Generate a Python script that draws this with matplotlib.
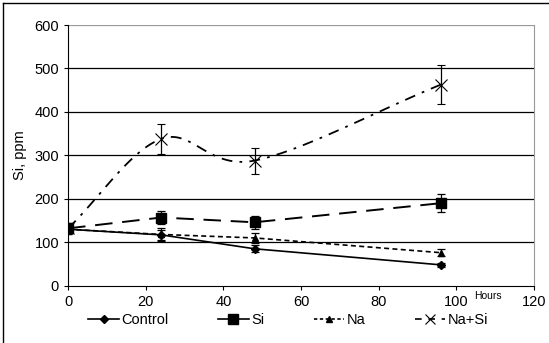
import numpy as np
import matplotlib.pyplot as plt
from matplotlib.lines import Line2D

plt.rcParams['font.family'] = ['Liberation Sans', 'DejaVu Sans']

hours = [0, 24, 48, 96]
control = [130, 117, 85, 48]
control_err = [8, 12, 8, 5]
si = [132, 157, 146, 190]
si_err = [12, 15, 15, 20]
na = [130, 118, 110, 76]
na_err = [10, 14, 12, 8]
nasi = [132, 338, 288, 463]
nasi_err = [10, 35, 30, 45]


# smooth curve through the points (like Excel's "smoothed line")
def smooth(x, y, n=40):
    x = np.asarray(x, float)
    y = np.asarray(y, float)
    px = np.concatenate([[2 * x[0] - x[1]], x, [2 * x[-1] - x[-2]]])
    py = np.concatenate([[2 * y[0] - y[1]], y, [2 * y[-1] - y[-2]]])
    xs, ys = [], []
    for i in range(1, len(px) - 2):
        t = np.linspace(0, 1, n)
        for arr, out in ((px, xs), (py, ys)):
            p0, p1, p2, p3 = arr[i - 1], arr[i], arr[i + 1], arr[i + 2]
            out.extend(0.5 * (2 * p1 + (-p0 + p2) * t
                              + (2 * p0 - 5 * p1 + 4 * p2 - p3) * t ** 2
                              + (-p0 + 3 * p1 - 3 * p2 + p3) * t ** 3))
    return xs, ys


fig = plt.figure(figsize=(5.49, 3.43), dpi=100)
ax = fig.add_axes([0.124, 0.167, 0.849, 0.76])

for v in range(100, 601, 100):
    ax.axhline(v, color='black' if v < 600 else '#999999', lw=0.9, zorder=1)

ekw = dict(ecolor='black', elinewidth=0.9, capsize=3, capthick=0.9, zorder=3)

ax.plot(hours, control, color='black', lw=1.2, zorder=2)
ax.errorbar(hours, control, yerr=control_err, fmt='D', color='black', ms=4, **ekw)

ax.plot(hours, si, color='black', lw=1.4, dashes=(9, 5), zorder=2)
ax.errorbar(hours, si, yerr=si_err, fmt='s', color='black', ms=7, **ekw)

ax.plot(hours, na, color='black', lw=1.2, dashes=(3, 2), zorder=2)
ax.errorbar(hours, na, yerr=na_err, fmt='^', color='black', ms=4.5, **ekw)

sx, sy = smooth(hours, nasi)
ax.plot(sx, sy, color='black', lw=1.3, dashes=(6, 4, 1.5, 4), zorder=2)
ax.errorbar(hours, nasi, yerr=nasi_err, fmt='x', color='black', ms=9,
            mew=0.8, **ekw)

ax.set_xlim(0, 120)
ax.set_ylim(0, 600)
ax.set_xticks(range(0, 121, 20))
ax.set_yticks(range(0, 601, 100))
ax.tick_params(labelsize=10.5, length=3, direction='out', colors='black')
ax.spines['top'].set_visible(False)
ax.spines['right'].set_color('#999999')
ax.set_ylabel('Si, ppm', fontsize=10.5, labelpad=5)
ax.text(108, -24, 'Hours', fontsize=7.5, ha='center', va='center',
        clip_on=False)

handles = [
    Line2D([], [], color='black', lw=1.2, marker='D', ms=4),
    Line2D([], [], color='black', lw=1.2, marker='s', ms=6.5),
    Line2D([], [], color='black', lw=1.2, dashes=(2, 1.5), marker='^', ms=4),
    Line2D([], [], color='black', lw=1.2, dashes=(4, 4), marker='x', ms=7, mew=0.8),
]
fig.legend(handles, ['Control', 'Si', 'Na', 'Na+Si'], loc='center',
           bbox_to_anchor=(0.525, 0.067), ncol=4, frameon=False, fontsize=10.5,
           handlelength=2.1, handletextpad=0.15, columnspacing=3.4)

fig.add_artist(Line2D([0.005, 1.0], [0.99, 0.99], color='black', lw=1))
fig.add_artist(Line2D([0.005, 0.005], [0.0, 0.99], color='black', lw=1))

fig.savefig('out.png', dpi=100)
